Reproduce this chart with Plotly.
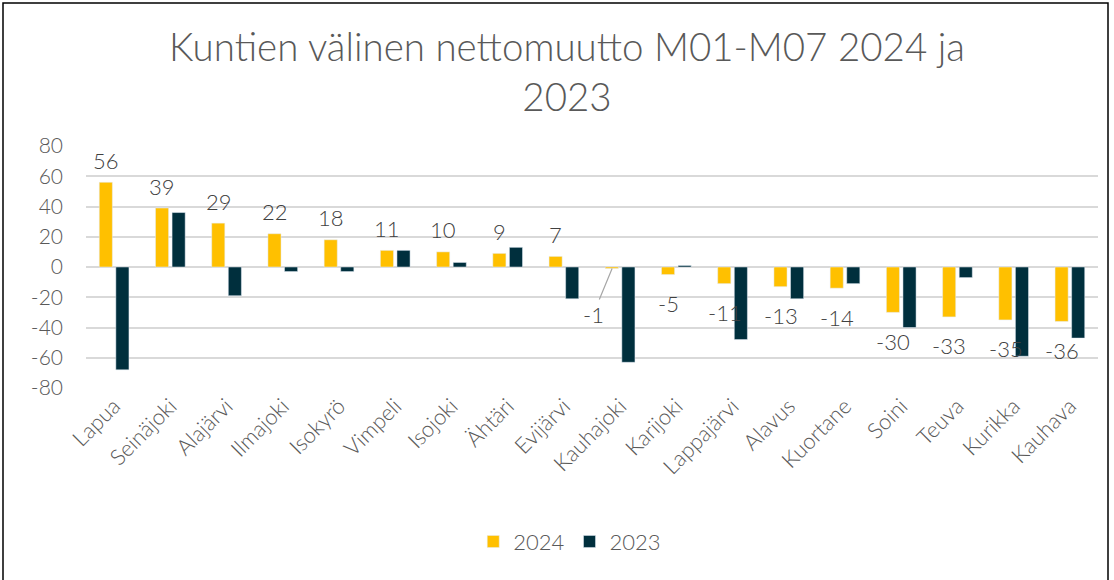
import plotly.graph_objects as go

categories = ["Lapua", "Seinäjoki", "Alajärvi", "Ilmajoki", "Isokyrö", "Vimpeli", "Isojoki",
              "Ähtäri", "Evijärvi", "Kauhajoki", "Karijoki", "Lappajärvi", "Alavus",
              "Kuortane", "Soini", "Teuva", "Kurikka", "Kauhava"]
values_2024 = [56, 39, 29, 22, 18, 11, 10, 9, 7, -1, -5, -11, -13, -14, -30, -33, -35, -36]
values_2023 = [-68, 36, -19, -3, -3, 11, 3, 13, -21, -63, 1, -48, -21, -11, -40, -7, -59, -47]
y_ticks = [-80, -60, -40, -20, 0, 20, 40, 60, 80]
y_ticktext = [str(v) for v in y_ticks]

FONT = "Lato"
TXT = "#595959"
LBL = "#404040"

callout_idx = categories.index("Kauhajoki")

fig = go.Figure()
fig.add_trace(go.Bar(x=categories, y=values_2024, name="2024", marker_color="#FFC000"))
fig.add_trace(go.Bar(x=categories, y=values_2023, name="2023", marker_color="#002F3D"))

# Data labels for 2024 (outside end)
for i, (c, v) in enumerate(zip(categories, values_2024)):
    if i == callout_idx:
        fig.add_annotation(
            x=c, y=v, xshift=-8, text=str(v), showarrow=True, arrowhead=0, arrowwidth=1.2,
            arrowcolor="#A6A6A6", ax=-19, ay=46,
            font=dict(family=FONT, size=22, color=LBL, weight=300))
    else:
        fig.add_annotation(
            x=c, y=v, xshift=-8, yshift=(22 if v >= 0 else -29), text=str(v),
            showarrow=False, xanchor="center", yanchor="middle",
            font=dict(family=FONT, size=22, color=LBL, weight=300))

# Outer border
L, R, T, B = 86, 16, 146, 192
W, H = 1114, 580
pw, ph = W - L - R, H - T - B
def px_x(x): return (x - L) / pw
def px_y(y): return 1 - (y - T) / ph
fig.add_shape(type="rect", xref="paper", yref="paper",
              x0=px_x(3), x1=px_x(1108), y0=px_y(600), y1=px_y(3),
              line=dict(color="#000000", width=1.5), fillcolor="rgba(0,0,0,0)", layer="below")

fig.update_layout(
    width=W, height=H,
    margin=dict(l=L, r=R, t=T, b=B, autoexpand=False),
    paper_bgcolor="white", plot_bgcolor="white",
    title=dict(text="Kuntien välinen nettomuutto M01-M07 2024 ja<br>2023",
               x=567 / W, xanchor="center", yref="container", y=1 - 61 / H, yanchor="middle",
               font=dict(family=FONT, size=38.5, color=TXT, weight=300)),
    barmode="group", bargap=0.41, bargroupgap=0.21,
    showlegend=True,
    legend=dict(orientation="h", x=0.478, xanchor="center", y=-0.635, yanchor="middle",
                font=dict(family=FONT, size=22, color=TXT, weight=300), itemwidth=30,
                traceorder="normal"),
    xaxis=dict(tickangle=-45, tickfont=dict(family=FONT, size=22, color=TXT, weight=300),
               showgrid=False, showline=False, ticks="", automargin=False),
    yaxis=dict(range=[-80, 80], tickvals=y_ticks, ticktext=y_ticktext, showgrid=True,
               gridcolor="#D9D9D9", gridwidth=1.5, zeroline=True, zerolinecolor="#D9D9D9",
               zerolinewidth=1.5, automargin=False, ticklabelstandoff=22,
               tickfont=dict(family=FONT, size=21, color=TXT, weight=300), ticks="", showline=False),
    font=dict(family=FONT),
)

fig.write_html("out.html", config={"displayModeBar": False},
               post_script="document.body.style.margin='0px';")
